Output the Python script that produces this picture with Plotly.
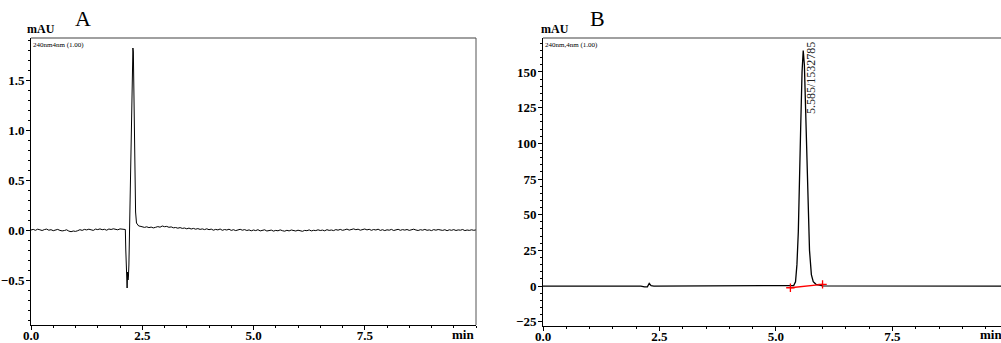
import numpy as np
import plotly.graph_objects as go

W, H = 1001, 343

# ---------------- Panel A data (mAU) ----------------
A_pre_start, A_pre_step = 0.0, 0.05
A_pre_values = [
    0.000, 0.006, -0.003, 0.008, 0.002, -0.005, 0.004, 0.009, -0.002, 0.003,
    -0.007, 0.001, 0.006, -0.004, -0.009, -0.005, 0.002, -0.011, -0.017, -0.010,
    -0.014, -0.007, 0.003, -0.004, 0.006, 0.001, 0.008, 0.002, -0.004, 0.009,
    0.004, 0.011, 0.003, 0.007, -0.002, 0.010, 0.005, 0.012, 0.006, 0.002,
    0.011, 0.008, 0.010,
]
A_peak_times = [2.12, 2.13, 2.145, 2.16, 2.17, 2.18, 2.19, 2.20, 2.21, 2.23,
                2.25, 2.27, 2.29, 2.30, 2.31, 2.33, 2.35, 2.37, 2.40, 2.42]
A_peak_values = [0.005, -0.20, -0.45, -0.58, -0.42, -0.50, -0.46, -0.35, -0.10, 0.40,
                 1.00, 1.50, 1.82, 1.78, 1.30, 0.60, 0.18, 0.07, 0.045, 0.040]
A_post_start, A_post_step = 2.45, 0.05
A_post_values = [
    0.038, 0.030, 0.026, 0.032, 0.024, 0.029, 0.021, 0.027, 0.034, 0.028,
    0.040, 0.033, 0.036, 0.027, 0.031, 0.022, 0.025, 0.018, 0.024, 0.016,
    0.020, 0.012, 0.019, 0.010, 0.016, 0.008, 0.014, 0.006, 0.011, 0.004,
    0.012, 0.003, 0.009, -0.002, 0.006, 0.001, 0.010, -0.003, 0.005, 0.000,
    0.008, -0.004, 0.003, -0.006, 0.002, 0.007, -0.002, 0.004, -0.005, 0.001,
    -0.008, 0.000, -0.006, 0.003, -0.009, -0.004, 0.002, -0.010, -0.005, -0.001,
    -0.011, -0.004, -0.008, 0.001, -0.007, -0.012, -0.003, -0.009, 0.000, -0.006,
    -0.010, -0.002, -0.008, -0.013, -0.004, -0.007, 0.001, -0.009, -0.003, -0.006,
    0.002, -0.005, -0.001, -0.008, 0.003, -0.004, 0.000, -0.006, 0.004, -0.002,
    0.006, -0.003, 0.002, 0.009, -0.001, 0.005, 0.011, 0.003, 0.008, -0.002,
    0.004, 0.010, 0.001, 0.007, -0.003, 0.005, 0.000, 0.008, -0.004, 0.003,
    -0.006, 0.002, -0.002, 0.006, -0.005, 0.001, 0.007, -0.003, 0.004, -0.001,
    0.005, -0.004, 0.002, 0.008, 0.000, -0.005, 0.003, -0.002, 0.006, -0.003,
    0.001, -0.006, 0.004, -0.002, 0.005, 0.000, -0.004, 0.003, -0.007, 0.002,
    -0.003, 0.004, -0.005, 0.001, -0.002, 0.005, -0.006, 0.000, -0.004, 0.002,
    -0.003, 0.001,
]

# ---------------- Panel B data (mAU) ----------------
B_times = [0.0, 2.10, 2.18, 2.24, 2.28, 2.32, 2.38,
           5.30, 5.38, 5.42, 5.45, 5.48, 5.50, 5.53, 5.56, 5.585, 5.61, 5.64,
           5.68, 5.72, 5.76, 5.80, 5.86, 5.93, 6.00, 9.90]
B_values = [0.0, 0.0, -0.6, -0.6, 1.8, 0.3, 0.0,
            0.0, 0.3, 3.0, 15.0, 38.0, 60.0, 110.0, 150.0, 165.0, 155.0, 115.0,
            60.0, 25.0, 8.0, 3.0, 1.2, 0.4, 0.1, 0.0]
B_base_times = [5.31, 6.00]
B_base_values = [-1.2, 1.2]
B_peak_label = "5.585/1532785"

A_x_ticks = [0.0, 2.5, 5.0, 7.5]
A_y_ticks = [-0.5, 0.0, 0.5, 1.0, 1.5]
B_x_ticks = [0.0, 2.5, 5.0, 7.5]
B_y_ticks = [-25, 0, 25, 50, 75, 100, 125, 150]

# assemble panel A series
A_t = ([A_pre_start + i * A_pre_step for i in range(len(A_pre_values))]
       + A_peak_times
       + [A_post_start + i * A_post_step for i in range(len(A_post_values))])
A_v = A_pre_values + A_peak_values + A_post_values


def px(x):
    return x / W


def py(y):
    return 1 - y / H


SERIF = "Liberation Serif, Times New Roman, serif"

fig = go.Figure()
fig.add_trace(go.Scatter(x=A_t, y=A_v, mode="lines",
                         line=dict(color="black", width=1), xaxis="x", yaxis="y",
                         showlegend=False, hoverinfo="skip"))
fig.add_trace(go.Scatter(x=B_times, y=B_values, mode="lines",
                         line=dict(color="black", width=1.3), xaxis="x2", yaxis="y2",
                         showlegend=False, hoverinfo="skip"))
fig.add_trace(go.Scatter(x=B_base_times, y=B_base_values, mode="lines+markers",
                         line=dict(color="red", width=1.3),
                         marker=dict(symbol="cross-thin", size=6,
                                     line=dict(color="red", width=1.3)),
                         xaxis="x2", yaxis="y2", showlegend=False, hoverinfo="skip"))

tickfont = dict(family=SERIF, size=13, color="black", weight="bold")

common_x = dict(showgrid=False, zeroline=False, showline=True, linecolor="black",
                linewidth=1, ticks="outside", ticklen=4, tickcolor="black",
                tickfont=tickfont, tickformat=".1f", automargin=False,
                ticklabelstandoff=-6,
                minor=dict(dtick=0.5, ticks="outside", ticklen=2, tickcolor="black"))
common_y = dict(showgrid=False, zeroline=False, showline=True, linecolor="black",
                linewidth=1, ticks="outside", ticklen=4, tickcolor="black",
                tickfont=tickfont, automargin=False, ticklabelstandoff=-1)

fig.update_layout(
    width=W, height=H, margin=dict(l=0, r=0, t=0, b=0, pad=0), autosize=False,
    paper_bgcolor="white", plot_bgcolor="white",
    xaxis=dict(common_x, domain=[px(31), px(476)], range=[0, 10],
               tickvals=A_x_ticks, anchor="y"),
    yaxis=dict(common_y, domain=[py(325), py(38)], range=[-0.95, 1.92],
               tickvals=A_y_ticks, tickformat=".1f", anchor="x",
               minor=dict(dtick=0.1, ticks="outside", ticklen=2, tickcolor="black")),
    xaxis2=dict(common_x, domain=[px(543), 1.0], range=[0, 9.83],
                tickvals=B_x_ticks, anchor="y2"),
    yaxis2=dict(common_y, domain=[py(326), py(38)], range=[-28, 173.8],
                tickvals=B_y_ticks, tickformat="d", anchor="x2",
                minor=dict(dtick=5, ticks="outside", ticklen=2, tickcolor="black")),
)

# frame lines (gray top/right)
gray = "#808080"
fig.add_shape(type="line", xref="paper", yref="paper", x0=px(31), x1=px(476),
              y0=py(38), y1=py(38), line=dict(color=gray, width=1.5))
fig.add_shape(type="line", xref="paper", yref="paper", x0=px(476), x1=px(476),
              y0=py(38), y1=py(325), line=dict(color="#555555", width=1))
fig.add_shape(type="line", xref="paper", yref="paper", x0=px(543), x1=1.0,
              y0=py(38), y1=py(38), line=dict(color=gray, width=1.5))


def note(text, x, y, size, xanchor="center", yanchor="middle", weight="normal",
         xref="paper", yref="paper", **kw):
    return dict(text=text, x=x, y=y, xref=xref, yref=yref, xanchor=xanchor,
                yanchor=yanchor, showarrow=False,
                font=dict(family=SERIF, size=size, color=kw.pop("color", "black"),
                          weight=weight), **kw)


ann = [
    note("A", px(83), py(18), 22),
    note("B", px(597), py(18), 22),
    note("mAU", px(41), py(29), 12, weight="bold"),
    note("mAU", px(555), py(29), 12, weight="bold"),
    note("240nm4nm (1.00)", px(31), py(39), 7, xanchor="left", yanchor="top"),
    note("240nm,4nm (1.00)", px(543), py(39), 7, xanchor="left", yanchor="top"),
    note("min", px(476), py(334), 13, xanchor="right", weight="bold"),
    note("min", px(978), py(334), 13, xanchor="left", weight="bold"),
    note(B_peak_label, 5.74, 146, 12, xref="x2", yref="y2", textangle=-90,
         color="#222222"),
]
fig.update_layout(annotations=ann)

fig.write_html("out.html", config={"displayModeBar": False},
               post_script="document.body.style.margin='0';document.body.style.overflow='hidden';")
